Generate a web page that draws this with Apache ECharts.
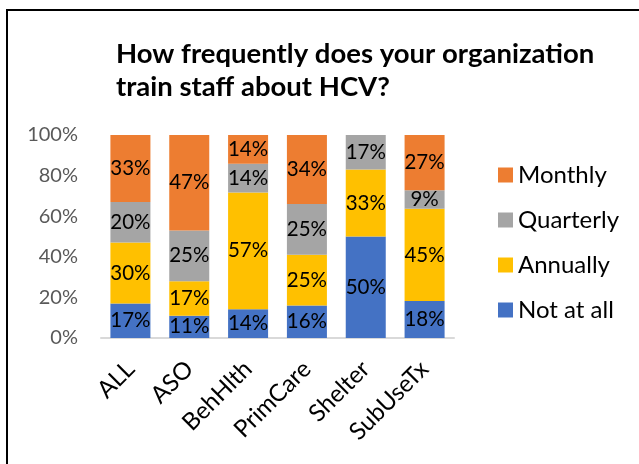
<!DOCTYPE html>
<html>
<head>
<meta charset="utf-8">
<script src="https://cdn.jsdelivr.net/npm/echarts@6/dist/echarts.min.js"></script>
<style>
  html, body { margin: 0; padding: 0; background: #fff; }
  #wrap { position: relative; width: 639px; height: 464px; overflow: hidden; }
  #chart { position: absolute; left: 0; top: 0; width: 639px; height: 464px; }
  #frame { position: absolute; left: 6px; top: 9px; width: 700px; height: 500px; border: 2px solid #000; pointer-events: none; }
</style>
</head>
<body>
<div id="wrap">
  <div id="chart"></div>
  <div id="frame"></div>
</div>
<script>
const categories = ['ALL', 'ASO', 'BehHlth', 'PrimCare', 'Shelter', 'SubUseTx'];
const notAtAll  = [17, 11, 14, 16, 50, 18];
const annually  = [30, 17, 57, 25, 33, 45];
const quarterly = [20, 25, 14, 25, 17, 9];
const monthly   = [33, 47, 14, 34, 0, 27];
const yTicks = ['0%', '20%', '40%', '60%', '80%', '100%'];

const FONT = 'Lato, "Open Sans", sans-serif';
const raw = [notAtAll, annually, quarterly, monthly];
const totals = categories.map((c, i) => raw.reduce((s, arr) => s + arr[i], 0));

const names = ['Not at all', 'Annually', 'Quarterly', 'Monthly'];
const colors = ['#4472C4', '#FFC000', '#A5A5A5', '#ED7D31'];

const series = raw.map((arr, k) => ({
  name: names[k],
  type: 'bar',
  stack: 'total',
  barWidth: '68%',
  data: arr.map((v, i) => ({ value: v / totals[i] * 100, raw: v })),
  itemStyle: { color: colors[k] },
  label: {
    show: true,
    position: 'inside',
    color: '#000',
    fontFamily: FONT,
    fontSize: 20.5,
    formatter: p => (p.data.raw > 0 ? p.data.raw + '%' : '')
  }
}));

const chart = echarts.init(document.getElementById('chart'), null, { renderer: 'canvas' });
chart.setOption({
  animation: false,
  title: {
    text: 'How frequently does your organization\ntrain staff about HCV?',
    left: 111,
    top: 33,
    textStyle: { fontFamily: FONT, fontWeight: 'bold', fontSize: 27.5, lineHeight: 33, color: '#000' }
  },
  legend: {
    orient: 'vertical',
    left: 493,
    top: 158,
    itemWidth: 15,
    itemHeight: 15,
    itemGap: 21,
    icon: 'rect',
    data: ['Monthly', 'Quarterly', 'Annually', 'Not at all'],
    textStyle: { fontFamily: FONT, fontSize: 24, color: '#000', padding: [0, 0, 0, 0] }
  },
  grid: { left: 101, top: 135, width: 353, height: 203, containLabel: false },
  xAxis: {
    type: 'category',
    data: categories,
    axisLine: { lineStyle: { color: '#D9D9D9', width: 2 } },
    axisTick: { show: false },
    axisLabel: { rotate: 45, margin: 27, color: '#000', fontFamily: FONT, fontSize: 24, interval: 0 }
  },
  yAxis: {
    type: 'value',
    min: 0,
    max: 100,
    interval: 20,
    splitLine: { show: false },
    axisLine: { show: false },
    axisTick: { show: false },
    axisLabel: {
      margin: 23,
      color: '#595959',
      fontFamily: FONT,
      fontSize: 20,
      formatter: v => yTicks[Math.round(v / 20)]
    }
  },
  series: series
});
</script>
</body>
</html>
